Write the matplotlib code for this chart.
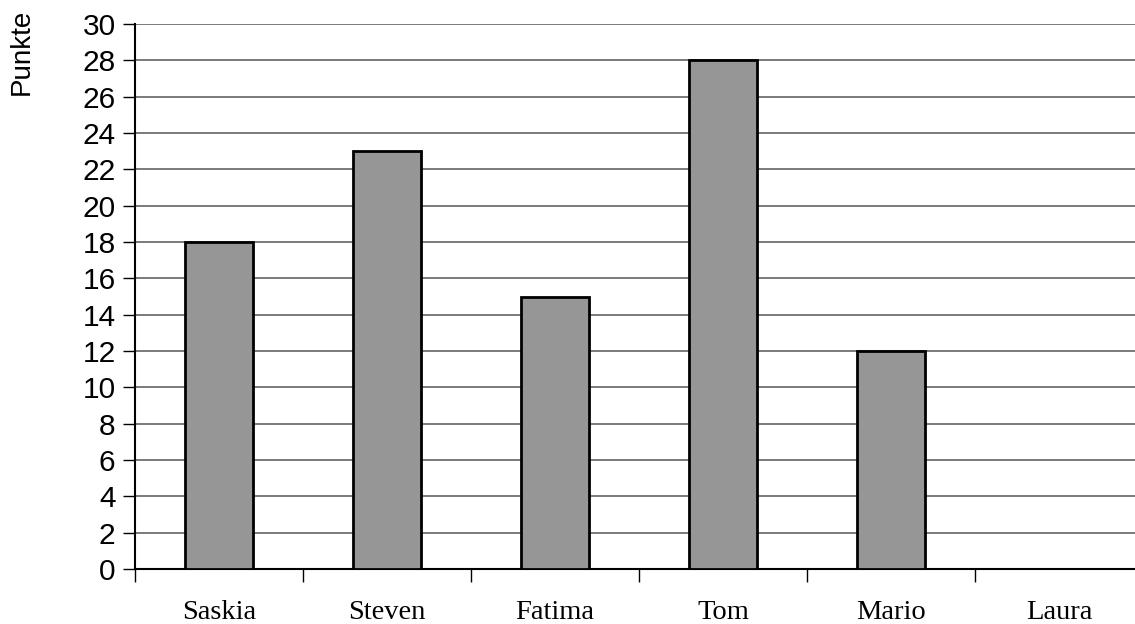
import matplotlib
matplotlib.use("Agg")
import matplotlib.pyplot as plt

names = ["Saskia", "Steven", "Fatima", "Tom", "Mario", "Laura"]
points = [18, 23, 15, 28, 12, 0]
yticks = list(range(0, 31, 2))

fig = plt.figure(figsize=(11.35, 6.24), dpi=100)
ax = fig.add_axes([135/1135, 55/624, 1008/1135, 545/624])

x = list(range(len(names)))
ax.bar(x, points, width=0.4, color="#969696", edgecolor="black", linewidth=2, zorder=3)

ax.set_xlim(-0.5, len(names) - 0.5)
ax.set_ylim(0, 30)
ax.set_yticks(yticks)
ax.set_yticklabels([str(t) for t in yticks], family="Liberation Sans", fontsize=21.5)
ax.yaxis.grid(True, color="#707070", linewidth=1.3, zorder=0)
ax.set_axisbelow(True)

ax.set_xticks([i - 0.5 for i in range(len(names) + 1)])
ax.set_xticklabels([])
ax.set_xticks(x, minor=True)
ax.set_xticklabels(names, minor=True, family="Liberation Serif", fontsize=20.5)
ax.tick_params(axis="x", which="minor", length=0, pad=22)
ax.tick_params(axis="x", which="major", length=9, width=1, direction="out")
ax.tick_params(axis="y", length=9, width=1, direction="out", pad=5)

for s in ["top", "right"]:
    ax.spines[s].set_visible(False)
ax.spines["left"].set_linewidth(1.5)
ax.spines["bottom"].set_linewidth(1.5)

fig.text(22/1135, 1 - 52/624, "Punkte", rotation=90, ha="center", va="center",
         family="Liberation Sans", fontsize=20)

fig.savefig("out.png", dpi=100)
